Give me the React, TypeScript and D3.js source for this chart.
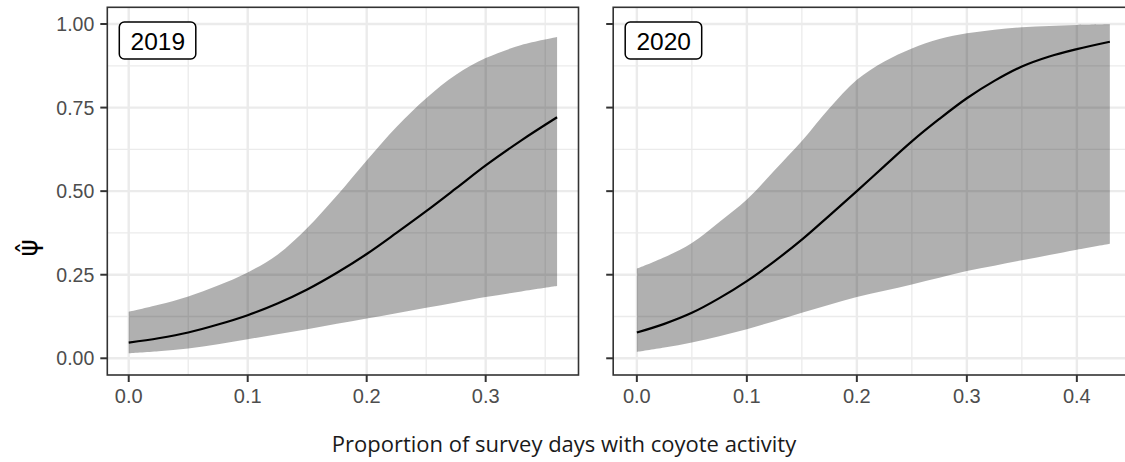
import * as d3 from "d3";

// values
const x2019 = [0, 0.025, 0.05, 0.075, 0.1, 0.125, 0.15, 0.175, 0.2, 0.225, 0.25, 0.275, 0.3, 0.33, 0.36];
const mean2019 = [0.047, 0.06, 0.077, 0.101, 0.129, 0.164, 0.206, 0.256, 0.312, 0.375, 0.44, 0.508, 0.577, 0.652, 0.721];
const upper2019 = [0.139, 0.16, 0.185, 0.218, 0.257, 0.31, 0.39, 0.487, 0.592, 0.692, 0.778, 0.848, 0.898, 0.937, 0.961];
const lower2019 = [0.015, 0.021, 0.029, 0.042, 0.057, 0.072, 0.087, 0.103, 0.119, 0.135, 0.151, 0.167, 0.183, 0.2, 0.216];

const x2020 = [0, 0.025, 0.05, 0.075, 0.1, 0.125, 0.15, 0.175, 0.2, 0.225, 0.25, 0.275, 0.3, 0.325, 0.35, 0.375, 0.4, 0.43];
const mean2020 = [0.077, 0.103, 0.136, 0.18, 0.231, 0.29, 0.355, 0.427, 0.5, 0.575, 0.649, 0.716, 0.778, 0.83, 0.873, 0.903, 0.925, 0.947];
const upper2020 = [0.268, 0.302, 0.345, 0.408, 0.475, 0.562, 0.65, 0.748, 0.833, 0.888, 0.927, 0.955, 0.972, 0.983, 0.99, 0.994, 0.997, 0.999];
const lower2020 = [0.019, 0.032, 0.047, 0.066, 0.087, 0.111, 0.136, 0.16, 0.183, 0.202, 0.221, 0.241, 0.261, 0.277, 0.293, 0.309, 0.325, 0.343];

const yTicks = [0, 0.25, 0.5, 0.75, 1];
const yMinor = [0.125, 0.375, 0.625, 0.875];
const xTicks2019 = [0, 0.1, 0.2, 0.3];
const xTicks2020 = [0, 0.1, 0.2, 0.3, 0.4];
const xMinor2019 = [0.05, 0.15, 0.25, 0.35];
const xMinor2020 = [0.05, 0.15, 0.25, 0.35];

const W = 1125;
const H = 462;
const top = 7.3;
const bottom = 375;

const panels = [
  { label: "2019", xs: x2019, mean: mean2019, upper: upper2019, lower: lower2019, ticks: xTicks2019, minor: xMinor2019, domain: [-0.018, 0.378], left: 107.3, right: 578.5, showY: true },
  { label: "2020", xs: x2020, mean: mean2020, upper: upper2020, lower: lower2020, ticks: xTicks2020, minor: xMinor2020, domain: [-0.0215, 0.4515], left: 613.2, right: 1133.5, showY: false },
];

const y = d3.scaleLinear().domain([-0.05, 1.05]).range([bottom, top]);
const font = "Liberation Sans, Arial, sans-serif";

function Panel({ p }: { p: (typeof panels)[number] }) {
  const x = d3.scaleLinear().domain(p.domain).range([p.left, p.right]);
  const area = d3
    .area<number>()
    .x((_, i) => x(p.xs[i]))
    .y0((_, i) => y(p.lower[i]))
    .y1((_, i) => y(p.upper[i]))
    .curve(d3.curveCatmullRom.alpha(0.5));
  const line = d3
    .line<number>()
    .x((_, i) => x(p.xs[i]))
    .y((d) => y(d))
    .curve(d3.curveCatmullRom.alpha(0.5));
  const clipId = "clip" + p.label;
  return (
    <g>
      <defs>
        <clipPath id={clipId}>
          <rect x={p.left} y={top} width={p.right - p.left} height={bottom - top} />
        </clipPath>
      </defs>
      <g clipPath={`url(#${clipId})`}>
        {yMinor.map((v) => (
          <line key={"ym" + v} x1={p.left} x2={p.right} y1={y(v)} y2={y(v)} stroke="#ebebeb" strokeWidth={1.3} />
        ))}
        {p.minor.map((v) => (
          <line key={"xm" + v} x1={x(v)} x2={x(v)} y1={top} y2={bottom} stroke="#ebebeb" strokeWidth={1.3} />
        ))}
        {yTicks.map((v) => (
          <line key={"y" + v} x1={p.left} x2={p.right} y1={y(v)} y2={y(v)} stroke="#ebebeb" strokeWidth={2.4} />
        ))}
        {p.ticks.map((v) => (
          <line key={"x" + v} x1={x(v)} x2={x(v)} y1={top} y2={bottom} stroke="#ebebeb" strokeWidth={2.4} />
        ))}
        <path d={area(p.xs) ?? ""} fill="#000" fillOpacity={0.31} />
        <path d={line(p.mean) ?? ""} fill="none" stroke="#000" strokeWidth={2.2} />
      </g>
      <rect x={p.left} y={top} width={p.right - p.left} height={bottom - top} fill="none" stroke="#333" strokeWidth={1.6} />
      {yTicks.map((v) => (
        <line key={"yt" + v} x1={p.left - 7} x2={p.left} y1={y(v)} y2={y(v)} stroke="#333" strokeWidth={2} />
      ))}
      {p.showY &&
        yTicks.map((v) => (
          <text key={"yl" + v} x={p.left - 13} y={y(v) + 7} textAnchor="end" fontSize={19.5} fill="#4d4d4d" fontFamily={font}>
            {d3.format(".2f")(v)}
          </text>
        ))}
      {p.ticks.map((v) => (
        <g key={"xt" + v}>
          <line x1={x(v)} x2={x(v)} y1={bottom} y2={bottom + 7} stroke="#333" strokeWidth={2} />
          <text x={x(v)} y={bottom + 28} textAnchor="middle" fontSize={20} fill="#4d4d4d" fontFamily={font}>
            {d3.format(".1f")(v)}
          </text>
        </g>
      ))}
      <rect x={p.left + 12} y={22} width={76.5} height={37} rx={5} fill="#fff" stroke="#000" strokeWidth={1.5} />
      <text x={p.left + 50.5} y={50} textAnchor="middle" fontSize={24.5} fill="#000" fontFamily={font}>
        {p.label}
      </text>
    </g>
  );
}

export default function App() {
  return (
    <svg width={W} height={H} style={{ position: "absolute", left: 0, top: 0, background: "#fff" }}>
      <rect width={W} height={H} fill="#fff" />
      {panels.map((p) => (
        <Panel key={p.label} p={p} />
      ))}
      <g transform="translate(37,248) rotate(-90)">
        <text x={0} y={0} textAnchor="middle" fontSize={26} fill="#000" fontFamily="DejaVu Sans, sans-serif">
          {"\u03C8\u0302"}
        </text>
      </g>
      <text x={564} y={452} textAnchor="middle" fontSize={22} fill="#1a1a1a" fontFamily="Open Sans, sans-serif">
        Proportion of survey days with coyote activity
      </text>
    </svg>
  );
}
